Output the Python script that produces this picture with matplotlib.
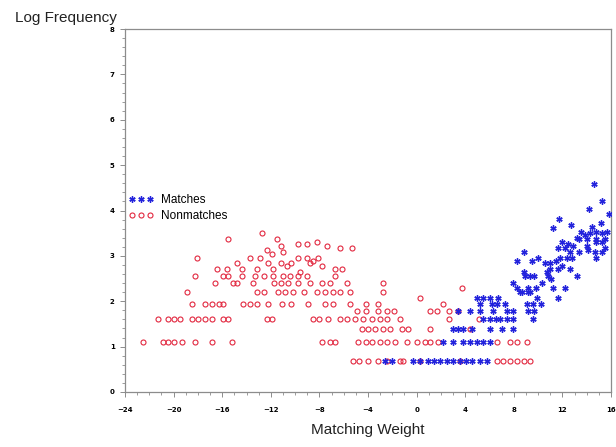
import numpy as np
import matplotlib
matplotlib.use("Agg")
from matplotlib import pyplot as plt
from matplotlib.ticker import MultipleLocator

# (matching weight, frequency) for record pairs that are true matches
matches = [
    (-2.6, 2), (-2.0, 2), (-0.3, 2), (0.3, 2), (0.9, 2), (1.4, 2), (1.9, 2),
    (2.5, 2), (3.0, 2), (3.6, 2), (4.1, 2), (4.6, 2), (5.2, 2), (5.8, 2),
    (2.2, 3), (3.0, 3), (3.8, 3), (4.4, 3), (5.0, 3), (5.5, 3), (6.0, 3),
    (3.0, 4), (3.4, 4), (3.8, 4), (4.6, 4), (6.0, 4), (7.0, 4), (7.9, 4),
    (5.5, 5), (6.0, 5), (6.5, 5), (6.9, 5), (7.4, 5), (7.9, 5), (9.6, 5),
    (3.4, 6), (4.4, 6), (5.2, 6), (6.3, 6), (7.4, 6), (7.9, 6), (9.2, 6), (9.7, 6),
    (5.2, 7), (6.2, 7), (6.6, 7), (7.3, 7), (9.1, 7), (9.6, 7), (10.2, 7),
    (5.0, 8), (5.5, 8), (6.0, 8), (6.7, 8), (9.9, 8), (11.6, 8),
    (8.5, 9), (8.7, 9), (9.2, 9), (9.3, 9),
    (8.3, 10), (9.2, 10), (9.8, 10), (11.2, 10), (12.2, 10),
    (7.9, 11), (10.3, 11), (11.1, 12),
    (8.9, 13), (9.3, 13), (9.7, 13), (10.8, 13), (13.2, 13),
    (8.8, 14), (10.7, 14), (11.0, 15), (11.6, 15), (12.6, 15), (12.0, 16),
    (10.6, 17), (11.0, 17), (11.5, 18), (8.3, 18), (9.5, 18),
    (10.0, 19), (11.8, 19), (14.8, 19), (12.4, 19), (12.8, 19),
    (12.6, 22), (13.4, 22), (14.7, 22), (15.3, 22), (8.8, 22), (14.1, 23),
    (11.6, 24), (12.2, 24), (15.5, 24), (12.9, 25), (14.0, 25), (12.5, 26),
    (12.0, 27), (14.8, 27), (15.3, 27),
    (13.4, 29), (14.0, 29), (14.8, 29), (15.5, 29), (13.2, 30), (13.9, 32),
    (14.3, 33), (15.3, 33), (13.5, 34), (14.8, 34), (15.7, 34),
    (11.2, 37), (14.4, 38), (12.7, 40), (15.2, 41), (11.7, 45),
    (15.8, 51), (14.2, 56), (15.3, 68), (14.6, 97),
]

# (matching weight, frequency) for non-matching pairs
nonmatches = [
    (-12.7, 33), (-15.5, 29), (-11.5, 29), (-8.2, 27), (-9.8, 26), (-9.0, 26),
    (-11.2, 25), (-7.4, 25), (-6.3, 24), (-5.3, 24), (-12.3, 23), (-11.0, 22),
    (-11.9, 21), (-9.8, 19), (-9.0, 19), (-8.1, 19), (-18.1, 19), (-13.7, 19),
    (-12.9, 19), (-8.5, 18),
    (-14.8, 17), (-12.2, 17), (-11.2, 17), (-10.3, 17), (-8.8, 17),
    (-7.8, 16), (-10.7, 16),
    (-14.4, 15), (-16.4, 15), (-15.6, 15), (-13.1, 15), (-11.8, 15), (-6.7, 15),
    (-6.1, 15), (-9.6, 14),
    (-18.2, 13), (-15.9, 13), (-15.5, 13), (-14.4, 13), (-13.3, 13), (-12.6, 13),
    (-11.8, 13), (-11.0, 13), (-10.4, 13), (-9.8, 13), (-9.0, 13), (-6.7, 13),
    (-16.6, 11), (-15.1, 11), (-14.8, 11), (-13.5, 11), (-11.7, 11), (-11.2, 11),
    (-10.6, 11), (-9.8, 11), (-8.8, 11), (-7.8, 11), (-7.1, 11), (-5.7, 11),
    (-2.8, 11), (3.7, 10),
    (-18.9, 9), (-13.1, 9), (-12.6, 9), (-11.4, 9), (-10.8, 9), (-10.2, 9),
    (-9.3, 9), (-8.2, 9), (-7.5, 9), (-6.9, 9), (-6.3, 9), (-5.5, 9), (-2.8, 9),
    (0.3, 8),
    (-18.5, 7), (-17.4, 7), (-16.8, 7), (-16.3, 7), (-15.9, 7), (-14.3, 7),
    (-13.7, 7), (-13.1, 7), (-12.2, 7), (-11.1, 7), (-10.3, 7), (-8.9, 7),
    (-7.5, 7), (-6.9, 7), (-5.5, 7), (-4.2, 7), (-3.2, 7), (2.2, 7),
    (-4.9, 6), (-4.2, 6), (-3.2, 6), (-2.4, 6), (-1.9, 6), (1.1, 6), (1.7, 6),
    (2.7, 6), (3.4, 6),
    (-21.3, 5), (-20.5, 5), (-20.0, 5), (-19.5, 5), (-18.5, 5), (-18.0, 5),
    (-17.4, 5), (-16.8, 5), (-15.9, 5), (-15.5, 5), (-12.3, 5), (-11.9, 5),
    (-8.5, 5), (-8.0, 5), (-7.3, 5), (-6.3, 5), (-5.7, 5), (-5.1, 5), (-4.4, 5),
    (-3.7, 5), (-3.0, 5), (-2.4, 5), (-1.4, 5), (2.7, 5), (5.1, 5),
    (-4.5, 4), (-4.0, 4), (-3.4, 4), (-2.8, 4), (-2.2, 4), (-1.2, 4), (-0.7, 4),
    (1.1, 4), (4.4, 4),
    (-22.5, 3), (-20.9, 3), (-20.5, 3), (-20.0, 3), (-19.3, 3), (-18.2, 3),
    (-16.8, 3), (-15.2, 3), (-7.8, 3), (-7.1, 3), (-6.7, 3), (-4.8, 3), (-4.2, 3),
    (-3.7, 3), (-3.0, 3), (-2.4, 3), (-1.8, 3), (-0.8, 3), (0.0, 3), (0.7, 3),
    (1.1, 3), (1.8, 3), (6.6, 3), (7.7, 3), (8.3, 3), (9.1, 3),
    (-5.2, 2), (-4.7, 2), (-4.0, 2), (-3.2, 2), (-2.4, 2), (-1.4, 2), (-1.1, 2),
    (0.3, 2), (3.6, 2), (6.6, 2), (7.1, 2), (7.7, 2), (8.3, 2), (8.8, 2), (9.3, 2),
]

x_ticks = [-24, -20, -16, -12, -8, -4, 0, 4, 8, 12, 16]
y_ticks = [0, 1, 2, 3, 4, 5, 6, 7, 8]

m_w, m_c = np.array(matches).T
n_w, n_c = np.array(nonmatches).T

plt.rcParams['font.family'] = ['Liberation Sans', 'DejaVu Sans']

fig = plt.figure(figsize=(6.16, 4.47), dpi=100)
ax = fig.add_axes([125/616, 1 - 392/447, 486/616, 363/447])

ax.plot(m_w, np.log(m_c), linestyle='none', marker=(6, 2, 0), markersize=4.5,
        markeredgewidth=1.0, color='#2323dc', label='Matches', zorder=3)
ax.plot(n_w, np.log(n_c), linestyle='none', marker='o', markersize=3.6,
        markeredgewidth=0.8, markerfacecolor='none', markeredgecolor='#e2283f',
        label='Nonmatches', zorder=2)

ax.set_xlim(-24, 16)
ax.set_ylim(0, 8)
ax.set_xticks(x_ticks)
ax.set_yticks(y_ticks)
ax.xaxis.set_minor_locator(MultipleLocator(1))
ax.yaxis.set_minor_locator(MultipleLocator(0.2))

for s in ax.spines.values():
    s.set_color('#8c8c8c')
    s.set_linewidth(0.9)
ax.tick_params(which='major', direction='out', length=3.5, width=0.7,
               color='#8c8c8c', labelsize=5)
ax.tick_params(which='minor', direction='out', length=2, width=0.6, color='#8c8c8c')
ax.tick_params(axis='x', which='major', pad=7)
ax.tick_params(axis='y', which='major', pad=4)
for t in ax.get_xticklabels() + ax.get_yticklabels():
    t.set_fontweight('bold')
    t.set_family('DejaVu Sans')

ax.set_xlabel('Matching Weight', fontsize=11, color='#222222')
ax.xaxis.set_label_coords(0.5, -0.085)
ax.set_ylabel('Log Frequency', fontsize=11, color='#222222', rotation=0,
              ha='left', va='center')
ax.yaxis.set_label_coords(-0.226, 1.03)

ax.legend(loc='upper left', bbox_to_anchor=(0.008, 0.545), frameon=False,
          numpoints=3, fontsize=8.5, handlelength=2.1, handletextpad=0.6,
          labelspacing=0.3, borderpad=0, borderaxespad=0)

fig.savefig('out.png', dpi=100, facecolor='white')
